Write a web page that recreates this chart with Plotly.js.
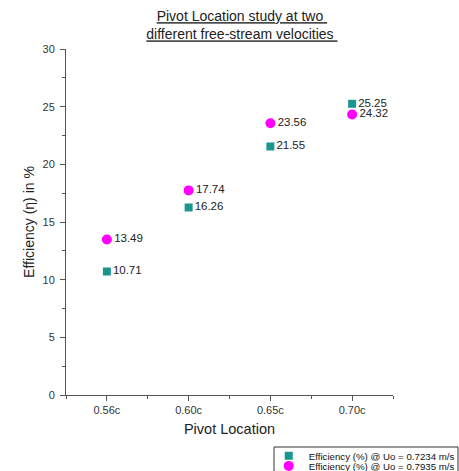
<!DOCTYPE html>
<html><head><meta charset="utf-8">
<script src="https://cdn.plot.ly/plotly-3.0.1.min.js"></script>
<style>html,body{margin:0;padding:0;background:#fff}#chart{width:459px;height:471px}</style>
</head><body><div id="chart"></div>
<script>
var categories = ['0.56c', '0.60c', '0.65c', '0.70c'];
var effLow = [10.71, 16.26, 21.55, 25.25];   // Uo = 0.7234 m/s
var effHigh = [13.49, 17.74, 23.56, 24.32];  // Uo = 0.7935 m/s
var seriesNames = ['Efficiency (%) @ Uo = 0.7234 m/s', 'Efficiency (%) @ Uo = 0.7935 m/s'];
var yTicks = [0, 5, 10, 15, 20, 25, 30];

var xIdx = categories.map(function (c, i) { return i; });
var FONT = 'Arial, "Liberation Sans", sans-serif';

var traces = [
  {
    x: xIdx, y: effLow, name: seriesNames[0], type: 'scatter', mode: 'markers+text',
    marker: {symbol: 'square', size: 8, color: '#1b9590'},
    text: effLow.map(function (v) { return v.toFixed(2); }),
    textposition: 'middle right', textfont: {family: FONT, size: 11.5, color: '#222'},
    cliponaxis: false, legend: 'legend'
  },
  {
    x: xIdx, y: effHigh, name: seriesNames[1], type: 'scatter', mode: 'markers+text',
    marker: {symbol: 'circle', size: 10, color: '#ff00ff'},
    text: effHigh.map(function (v) { return v.toFixed(2); }),
    textposition: 'middle right', textfont: {family: FONT, size: 11.5, color: '#222'},
    cliponaxis: false, legend: 'legend2'
  }
];

var legendCommon = {
  xanchor: 'left', yanchor: 'top', bgcolor: 'rgba(0,0,0,0)', borderwidth: 0,
  font: {family: FONT, size: 9.7, color: '#111'}, itemclick: false
};

var layout = {
  width: 459, height: 471,
  margin: {l: 66, r: 66, t: 49, b: 76, autoexpand: false},
  paper_bgcolor: '#fff', plot_bgcolor: '#fff',
  font: {family: FONT, color: '#222'},
  showlegend: true,
  title: {
    text: '<u>Pivot Location study at two\u00a0</u><br><u>different free-stream velocities\u00a0</u>',
    font: {family: FONT, size: 14, color: '#222'},
    x: 0.527, xref: 'container', xanchor: 'center',
    y: 0.955, yref: 'container', yanchor: 'top'
  },
  xaxis: {
    range: [-0.5, 3.5], tickvals: xIdx, ticktext: categories,
    showgrid: false, zeroline: false, showline: true, linecolor: '#555', linewidth: 1,
    ticks: 'outside', ticklen: 5, tickcolor: '#555',
    tickfont: {family: FONT, size: 11, color: '#333'},
    minor: {dtick: 0.5, tick0: -0.5, ticks: 'outside', ticklen: 3, tickcolor: '#555', showgrid: false},
    title: {text: 'Pivot Location', font: {family: FONT, size: 14.5, color: '#222'}, standoff: 8}
  },
  yaxis: {
    range: [0, 30], tickvals: yTicks,
    showgrid: false, zeroline: false, showline: true, linecolor: '#555', linewidth: 1,
    ticks: 'outside', ticklen: 5, tickcolor: '#555', ticklabelstandoff: 3,
    tickfont: {family: FONT, size: 11, color: '#333'},
    minor: {dtick: 2.5, tick0: 0, ticks: 'outside', ticklen: 3, tickcolor: '#555', showgrid: false},
    title: {text: 'Efficiency (\u03b7) in %', font: {family: FONT, size: 14, color: '#222'}, standoff: 4}
  },
  legend: Object.assign({x: 0.62, y: -0.134}, legendCommon),
  legend2: Object.assign({x: 0.62, y: -0.163}, legendCommon),
  shapes: [{
    type: 'rect', xref: 'paper', yref: 'paper',
    x0: (274 - 66) / 327, x1: (458 - 66) / 327,
    y0: -(480 - 395) / 346, y1: -(447 - 395) / 346,
    line: {color: '#333', width: 1}, fillcolor: 'rgba(0,0,0,0)'
  }]
};

Plotly.newPlot('chart', traces, layout, {displayModeBar: false, staticPlot: true});
</script></body></html>
